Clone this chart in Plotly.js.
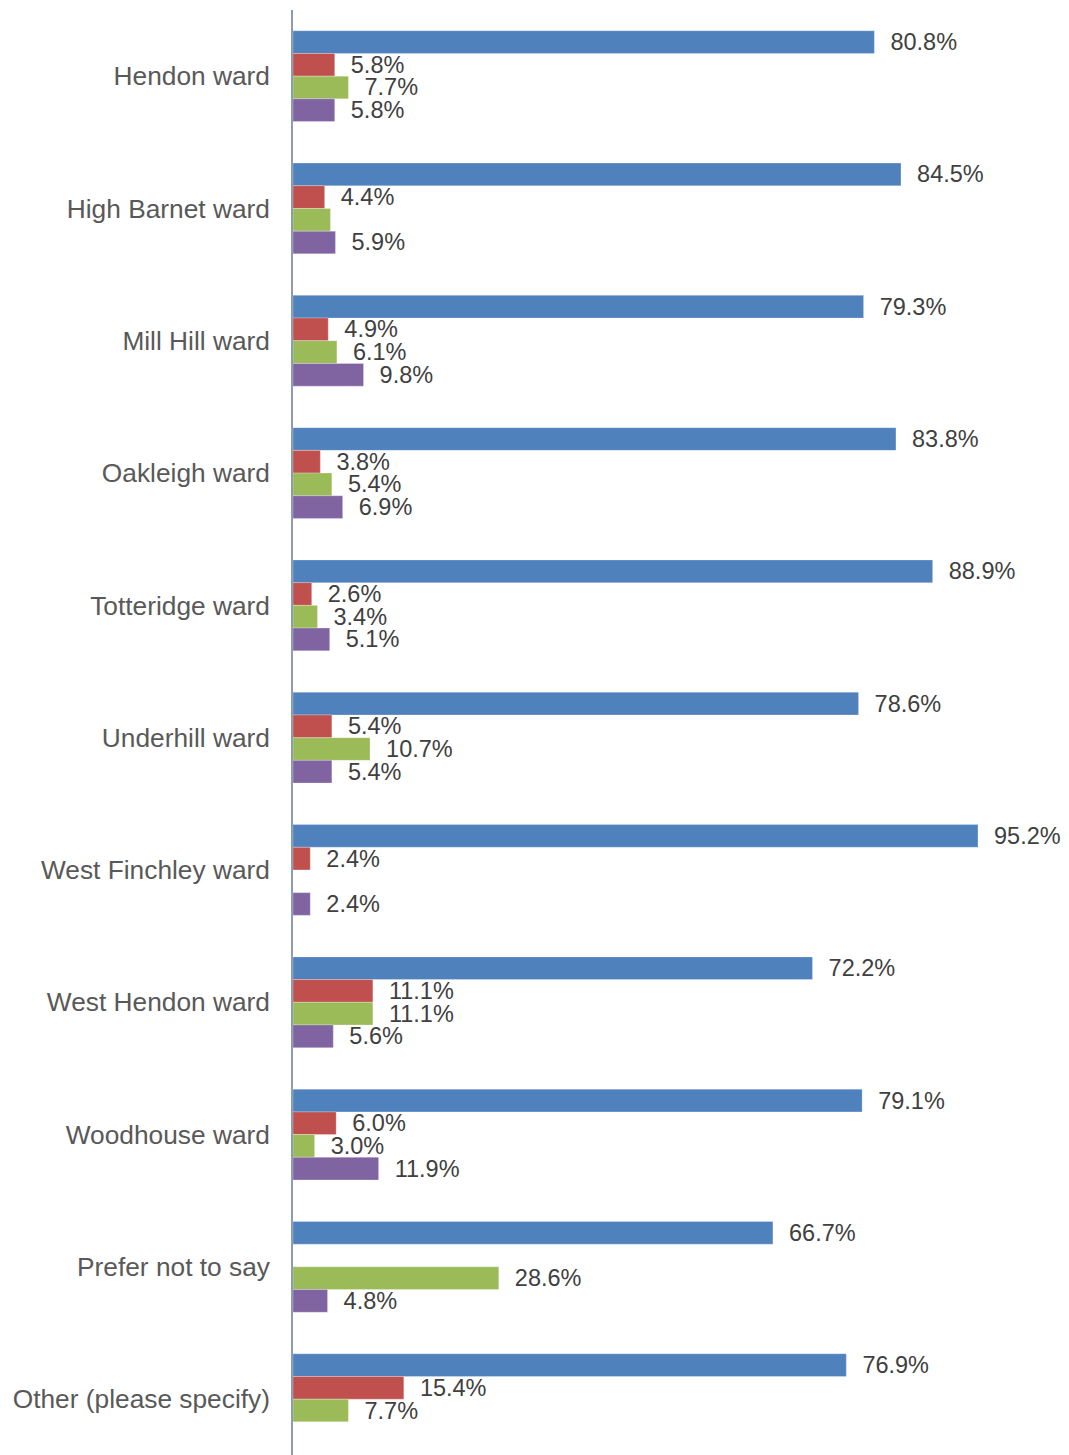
<!DOCTYPE html>
<html>
<head>
<meta charset="utf-8">
<script src="https://cdn.plot.ly/plotly-3.0.1.min.js"></script>
<style>
  html, body { margin: 0; padding: 0; background: #ffffff; }
  #chart { width: 1069px; height: 1455px; }
</style>
</head>
<body>
<div id="chart"></div>
<script>
const categories = [
  "Hendon ward",
  "High Barnet ward",
  "Mill Hill ward",
  "Oakleigh ward",
  "Totteridge ward",
  "Underhill ward",
  "West Finchley ward",
  "West Hendon ward",
  "Woodhouse ward",
  "Prefer not to say",
  "Other (please specify)"
];

const seriesBlue   = [80.8, 84.5, 79.3, 83.8, 88.9, 78.6, 95.2, 72.2, 79.1, 66.7, 76.9];
const seriesRed    = [5.8, 4.4, 4.9, 3.8, 2.6, 5.4, 2.4, 11.1, 6.0, null, 15.4];
const seriesGreen  = [7.7, 5.2, 6.1, 5.4, 3.4, 10.7, null, 11.1, 3.0, 28.6, 7.7];
const seriesPurple = [5.8, 5.9, 9.8, 6.9, 5.1, 5.4, 2.4, 5.6, 11.9, 4.8, null];

// labels that are not shown in the reference (series index, category index)
const hiddenLabels = [[2, 1]];

const seriesValues = [seriesBlue, seriesRed, seriesGreen, seriesPurple];
const seriesNames = ["Series 1", "Series 2", "Series 3", "Series 4"];
const seriesColors = ["#4F81BD", "#C0504D", "#9BBB59", "#8064A2"];

const FONT = 'Arial, "Liberation Sans", sans-serif';

function isHidden(s, c) {
  return hiddenLabels.some(h => h[0] === s && h[1] === c);
}

const traces = seriesValues.map((vals, s) => ({
  type: 'bar',
  orientation: 'h',
  name: seriesNames[s],
  y: categories,
  x: vals,
  marker: { color: seriesColors[s], line: { color: 'rgba(255,255,255,0.5)', width: 0.5 } },
  text: vals.map((v, c) => (v == null || isHidden(s, c)) ? '' : '\u00a0\u00a0' + v.toFixed(1) + '%'),
  textposition: 'outside',
  textfont: { family: FONT, size: 23.5, color: '#404040' },
  constraintext: 'none',
  cliponaxis: false,
  hoverinfo: 'y+x'
}));

const layout = {
  width: 1069,
  height: 1455,
  margin: { l: 293, r: 0, t: 10, b: 0, pad: 0 },
  paper_bgcolor: '#ffffff',
  plot_bgcolor: '#ffffff',
  barmode: 'group',
  bargap: 0.314,
  bargroupgap: 0,
  showlegend: false,
  font: { family: FONT, color: '#595959' },
  xaxis: {
    range: [0, 107.85],
    visible: false,
    showgrid: false,
    zeroline: false,
    fixedrange: true
  },
  yaxis: {
    type: 'category',
    range: [10.422, -0.5],
    showgrid: false,
    zeroline: false,
    showline: true,
    linecolor: '#8C9DB0',
    linewidth: 1.8,
    ticks: '',
    ticklabelstandoff: 16,
    tickfont: { family: FONT, size: 26.3, color: '#595959' },
    fixedrange: true
  }
};

Plotly.newPlot('chart', traces, layout, { displayModeBar: false, staticPlot: true });
</script>
</body>
</html>
